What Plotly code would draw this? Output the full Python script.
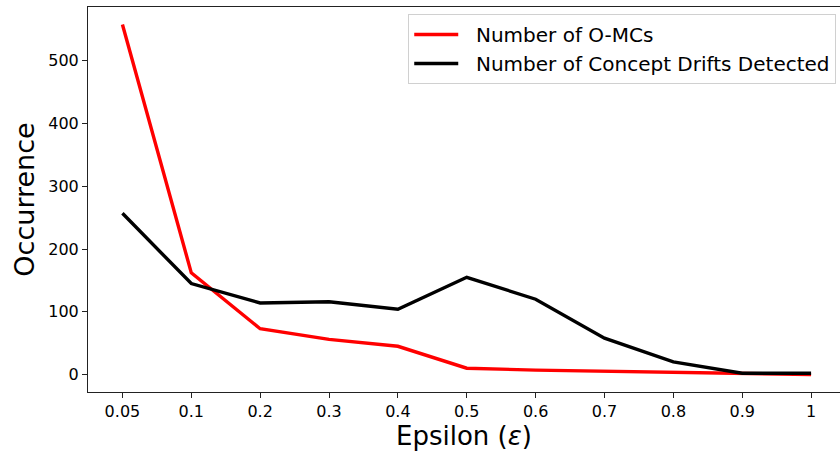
import plotly.graph_objects as go

epsilon_labels = ["0.05", "0.1", "0.2", "0.3", "0.4", "0.5", "0.6", "0.7", "0.8", "0.9", "1"]
omcs = [558, 162, 73, 56, 45, 10, 7, 5, 3, 2, 0]
drifts = [257, 145, 114, 116, 104, 155, 120, 58, 20, 2, 2]
y_ticks = [0, 100, 200, 300, 400, 500]
series_names = ["Number of O-MCs", "Number of Concept Drifts Detected"]

FONT = "DejaVu Sans"
PAD = "\u00a0\u00a0"

fig = go.Figure()
fig.add_trace(go.Scatter(x=epsilon_labels, y=omcs, mode="lines", name=PAD + series_names[0],
                         line=dict(color="#ff0000", width=3.4)))
fig.add_trace(go.Scatter(x=epsilon_labels, y=drifts, mode="lines",
                         name=PAD + series_names[1],
                         line=dict(color="#000000", width=3.4)))

fig.update_layout(
    width=840, height=454,
    margin=dict(l=88, r=0, t=7, b=62, autoexpand=False),
    paper_bgcolor="white", plot_bgcolor="white",
    font=dict(family=FONT, color="#000000", size=16),
    showlegend=True,
    legend=dict(x=0.995, xanchor="right", y=0.982, yanchor="top",
                bgcolor="rgba(255,255,255,0.8)", bordercolor="#d0d0d0", borderwidth=1,
                font=dict(family=FONT, size=20, color="#000"),
                itemwidth=44),
)
fig.update_xaxes(
    type="category", categoryorder="array", categoryarray=epsilon_labels,
    range=[-0.5, 10.42], automargin=False,
    showline=True, linecolor="#222", linewidth=1, mirror=True,
    ticks="outside", ticklen=5, tickcolor="#222", tickwidth=1,
    showgrid=False, zeroline=False,
    tickfont=dict(family=FONT, size=16, color="#000"),
    title=dict(text="Epsilon (<i>ε</i>)", font=dict(family=FONT, size=26, color="#000"), standoff=6),
)
fig.update_yaxes(
    range=[-27.9, 585.9], automargin=False,
    tickvals=y_ticks,
    showline=True, linecolor="#222", linewidth=1, mirror=False,
    ticks="outside", ticklen=5, tickcolor="#222", tickwidth=1,
    showgrid=False, zeroline=False,
    tickfont=dict(family=FONT, size=16, color="#000"),
    title=dict(text="Occurrence", font=dict(family=FONT, size=27, color="#000"), standoff=5),
)

fig.write_html("out.html", config={"displayModeBar": False},
               post_script="document.body.style.margin='0px';document.body.style.padding='0px';")
